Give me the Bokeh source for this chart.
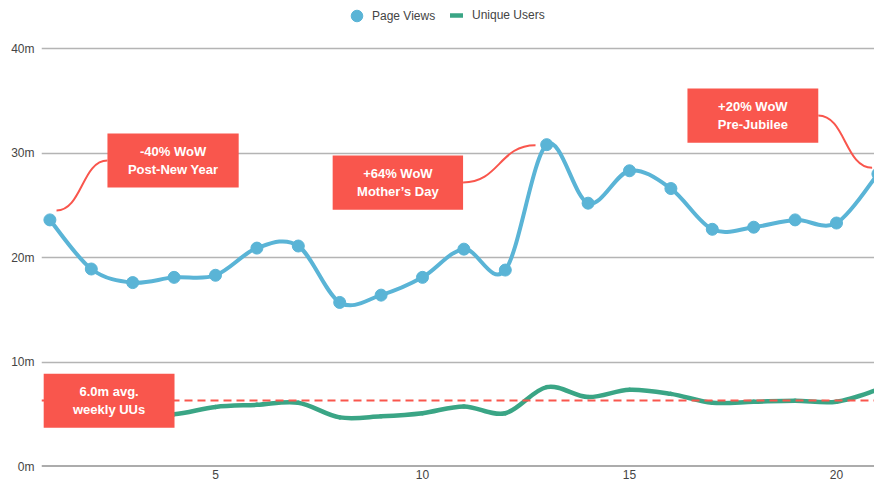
import numpy as np
from bokeh.plotting import figure
from bokeh.models import Range1d, FixedTicker, PrintfTickFormatter, Legend, LegendItem
from bokeh.core.properties import value
from bokeh.embed import file_html
from bokeh.resources import INLINE

# ---------------- data ----------------
weeks = list(range(1, 22))
page_views = [23.6, 18.9, 17.6, 18.1, 18.3, 20.9, 21.1, 15.7, 16.4, 18.1, 20.8,
              18.8, 30.8, 25.2, 28.3, 26.6, 22.7, 22.9, 23.6, 23.3, 28.0]
unique_users = [6.3, 5.4, 5.0, 5.0, 5.7, 5.9, 6.1, 4.7, 4.8, 5.1, 5.75,
                5.1, 7.6, 6.65, 7.35, 6.95, 6.1, 6.2, 6.3, 6.2, 7.35]
avg_uu = 6.3
y_ticks = [0, 10, 20, 30, 40]
x_ticks = [5, 10, 15, 20]

ann_text = ["-40% WoW\nPost-New Year", "+64% WoW\nMother\u2019s Day",
            "+20% WoW\nPre-Jubilee", "6.0m avg.\nweekly UUs"]
ann_left = [2.39, 7.83, 16.40, 0.85]
ann_right = [5.56, 10.98, 19.56, 4.01]
ann_top = [31.87, 29.76, 36.17, 8.87]
ann_bottom = [26.70, 24.56, 30.98, 3.70]

conn_x0 = [1.16, 10.98, 19.56]
conn_y0 = [24.5, 27.18, 33.59]
conn_x1 = [2.39, 12.73, 20.86]
conn_y1 = [29.28, 30.75, 28.58]

# ---------------- styles ----------------
RED = "#F9564D"
BLUE = "#5AB4D6"
GREEN = "#3AA585"
FONT = "Liberation Sans"
TXT = "#444444"


def catmull_rom(xs, ys):
    x = np.asarray(xs, float)
    y = np.asarray(ys, float)
    xp = np.concatenate([[x[0]], x, [x[-1]]])
    yp = np.concatenate([[y[0]], y, [y[-1]]])
    x0, y0 = x[:-1], y[:-1]
    x1, y1 = x[1:], y[1:]
    cx0 = x0 + (xp[2:-1] - xp[:-3]) / 6.0
    cy0 = y0 + (yp[2:-1] - yp[:-3]) / 6.0
    cx1 = x1 - (xp[3:] - xp[1:-2]) / 6.0
    cy1 = y1 - (yp[3:] - yp[1:-2]) / 6.0
    return dict(x0=x0, y0=y0, x1=x1, y1=y1, cx0=cx0, cy0=cy0, cx1=cx1, cy1=cy1)


p = figure(frame_width=833, frame_height=458,
           min_border_left=41, min_border_right=0, min_border_top=8, min_border_bottom=0,
           x_range=Range1d(0.797, 20.918), y_range=Range1d(0, 43.83),
           output_backend="svg", toolbar_location=None)
p.outline_line_color = None
p.background_fill_color = "white"

# axes
for ax in (p.xaxis, p.yaxis):
    ax.axis_line_color = None
    ax.major_tick_line_color = None
    ax.minor_tick_line_color = None
    ax.major_tick_out = 0
    ax.major_tick_in = 0
    ax.major_label_text_font = FONT
    ax.major_label_text_font_size = "12px"
    ax.major_label_text_color = TXT
p.yaxis.ticker = FixedTicker(ticks=y_ticks)
p.yaxis.formatter = PrintfTickFormatter(format="%dm")
p.yaxis.major_label_standoff = 7
p.xaxis.ticker = FixedTicker(ticks=x_ticks)
p.xaxis.major_label_standoff = 3

p.xgrid.grid_line_color = None
p.ygrid.grid_line_color = "#b4b4b4"
p.ygrid.grid_line_width = 1.5

# baseline
p.hspan(y=[0], line_color="#5a5a5a", line_width=2)

# unique users curve
uu = p.bezier(line_color=GREEN, line_width=4.5, line_cap="round",
              **catmull_rom(weeks, unique_users))

# average line
p.hspan(y=[avg_uu], line_color=RED, line_width=2, line_dash="8 5")

# page views curve + markers
p.bezier(line_color=BLUE, line_width=4, line_cap="round",
         **catmull_rom(weeks, page_views))
pv = p.scatter(weeks, page_views, size=12, fill_color=BLUE, line_color=BLUE)

# connectors
mx = [(a + b) / 2 for a, b in zip(conn_x0, conn_x1)]
p.bezier(x0=conn_x0, y0=conn_y0, x1=conn_x1, y1=conn_y1,
         cx0=mx, cy0=conn_y0, cx1=mx, cy1=conn_y1,
         line_color=RED, line_width=2)

# annotation boxes
p.quad(left=ann_left, right=ann_right, top=ann_top, bottom=ann_bottom,
       fill_color=RED, line_color=None)
p.text(x=[(a + b) / 2 for a, b in zip(ann_left, ann_right)],
       y=[(a + b) / 2 for a, b in zip(ann_top, ann_bottom)],
       text=ann_text, text_color="white", text_font=value(FONT),
       text_font_style="bold", text_font_size="13px",
       text_align="center", text_baseline="middle", text_line_height=1.2)

# legends
common = dict(orientation="horizontal", padding=0, margin=0, spacing=0,
              border_line_alpha=0, background_fill_alpha=0,
              label_text_font=FONT, label_text_font_size="12px",
              label_text_color=TXT, label_height=14)
leg1 = Legend(items=[LegendItem(label="Page Views", renderers=[pv])],
              location=(301, 436), glyph_width=29, glyph_height=29,
              label_standoff=1, **common)
leg2 = Legend(items=[LegendItem(label="Unique Users", renderers=[uu])],
              location=(409, 444), glyph_width=13, glyph_height=14,
              label_standoff=9, **common)
p.add_layout(leg1)
p.add_layout(leg2)

open("out.html", "w").write(file_html(p, INLINE))
